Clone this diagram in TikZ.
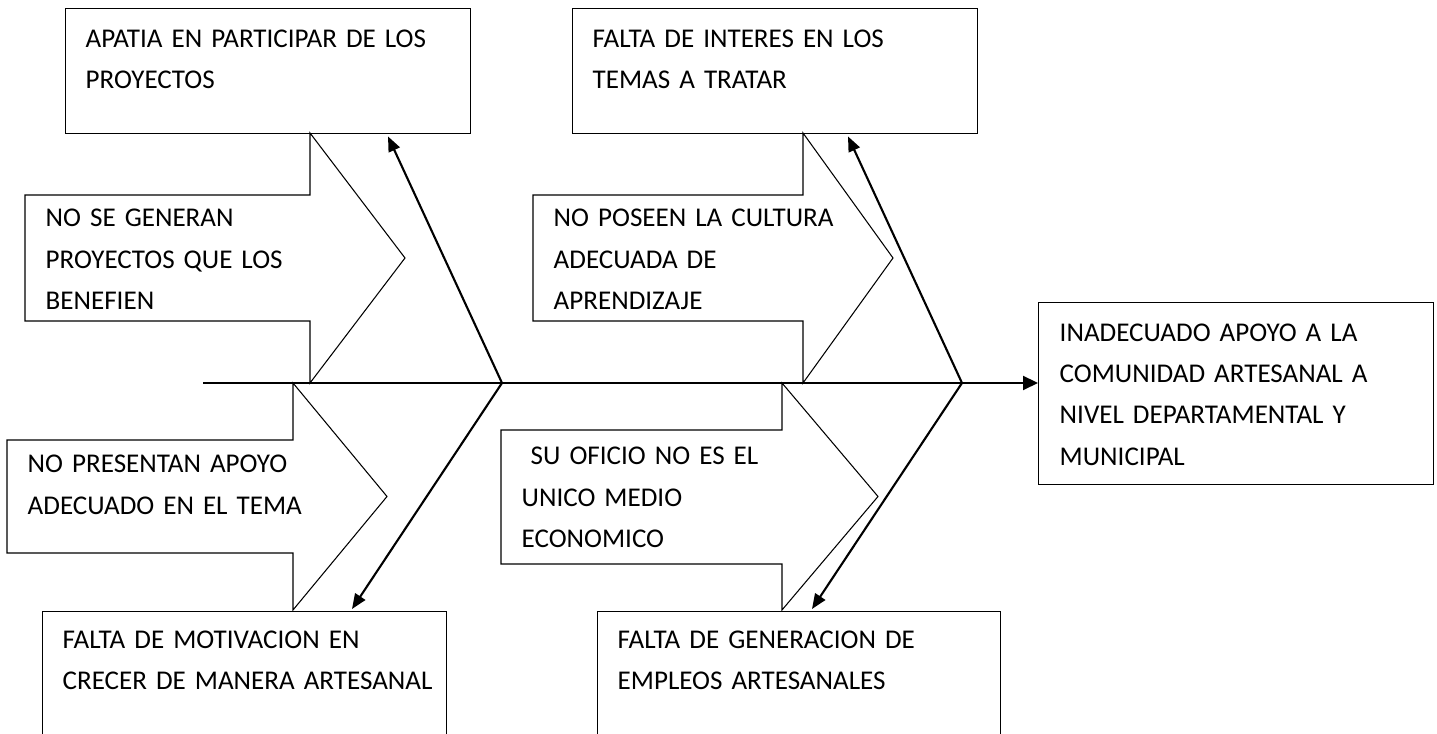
\documentclass[tikz,border=0pt]{standalone}
\usepackage{fontspec}
\setmainfont{Carlito}
\usetikzlibrary{arrows.meta,calc}
\hyphenpenalty=10000

\tikzset{
  causebox/.style={draw, line width=0.4pt, anchor=north west, align=left, inner xsep=0.2cm, inner ysep=0pt, font=\fontsize{7.7}{11.7}\selectfont},
  armtext/.style={anchor=base west, align=left, inner sep=0pt, text width=3cm, font=\fontsize{7.7}{11.7}\selectfont},
  armshape/.style={draw, line width=0.3pt},
  spine/.style={line width=0.6pt, -{Triangle[length=1.5mm,width=1.4mm]}},
  bone/.style={line width=0.6pt, -{Triangle[length=1.5mm,width=1.2mm]}}
}

\begin{document}
\begin{tikzpicture}

\useasboundingbox (0,0) rectangle (14.37,-7.34);

%draw effect and cause boxes
\node[causebox, text width=3.65cm, text height=0.39cm, text depth=0.86cm] (apatia) at (0.65,-0.08) {APATIA EN PARTICIPAR DE LOS\\PROYECTOS};
\node[causebox, text width=3.65cm, text height=0.39cm, text depth=0.86cm] (interes) at (5.72,-0.08) {FALTA DE INTERES EN LOS\\TEMAS A TRATAR};
\node[causebox, inner xsep=0.21cm, text width=3.53cm, text height=0.39cm, text depth=1.43cm] (efecto) at (10.38,-3.02) {INADECUADO APOYO A LA\\COMUNIDAD ARTESANAL A\\NIVEL DEPARTAMENTAL Y\\MUNICIPAL};
\node[causebox, text width=3.64cm, text height=0.37cm, text depth=1.0cm] (motivacion) at (0.42,-6.11) {FALTA DE MOTIVACION EN\\\mbox{CRECER DE MANERA ARTESANAL}};
\node[causebox, text width=3.63cm, text height=0.37cm, text depth=1.0cm] (empleos) at (5.97,-6.11) {FALTA DE GENERACION DE\\EMPLEOS ARTESANALES};

%draw block arrows
\foreach \xl/\xs/\xt/\yt/\yb/\yht/\yhb in {0.25/3.10/4.05/-1.95/-3.21/-1.33/-3.83,
                                           5.33/8.03/8.93/-1.95/-3.21/-1.33/-3.83,
                                           0.07/2.93/3.87/-4.40/-5.53/-3.83/-6.10,
                                           5.01/7.82/8.78/-4.30/-5.64/-3.83/-6.10}
    {
    \draw[armshape] (\xl,\yt) -- (\xs,\yt) -- (\xs,\yht) -- (\xt,{(\yht+\yhb)/2}) -- (\xs,\yhb) -- (\xs,\yb) -- (\xl,\yb) -- cycle;
    }

%label block arrows
\node[armtext] (generan) at (0.45,-2.27) {NO SE GENERAN\\PROYECTOS QUE LOS\\BENEFIEN};
\node[armtext] (cultura) at (5.53,-2.27) {NO POSEEN LA CULTURA\\ADECUADA DE\\APRENDIZAJE};
\node[armtext] (presentan) at (0.27,-4.73) {NO PRESENTAN APOYO\\ADECUADO EN EL TEMA};
\node[armtext] (oficio) at (5.21,-4.65) {~SU OFICIO NO ES EL\\UNICO MEDIO\\ECONOMICO};

%draw spine
\coordinate (tail) at (2.03,-3.83);
\coordinate (j1) at (5.02,-3.83);
\coordinate (j2) at (9.62,-3.83);
\draw[spine] (tail) -- (j2 -| efecto.west);

%draw bones
\draw[bone] (j1) -- ($(apatia.south west)+(3.23,-0.02)$);
\draw[bone] (j1) -- ($(motivacion.north west)+(3.10,0.02)$);
\draw[bone] (j2) -- ($(interes.south west)+(2.76,-0.02)$);
\draw[bone] (j2) -- ($(empleos.north west)+(2.15,0.02)$);

\end{tikzpicture}
\end{document}
